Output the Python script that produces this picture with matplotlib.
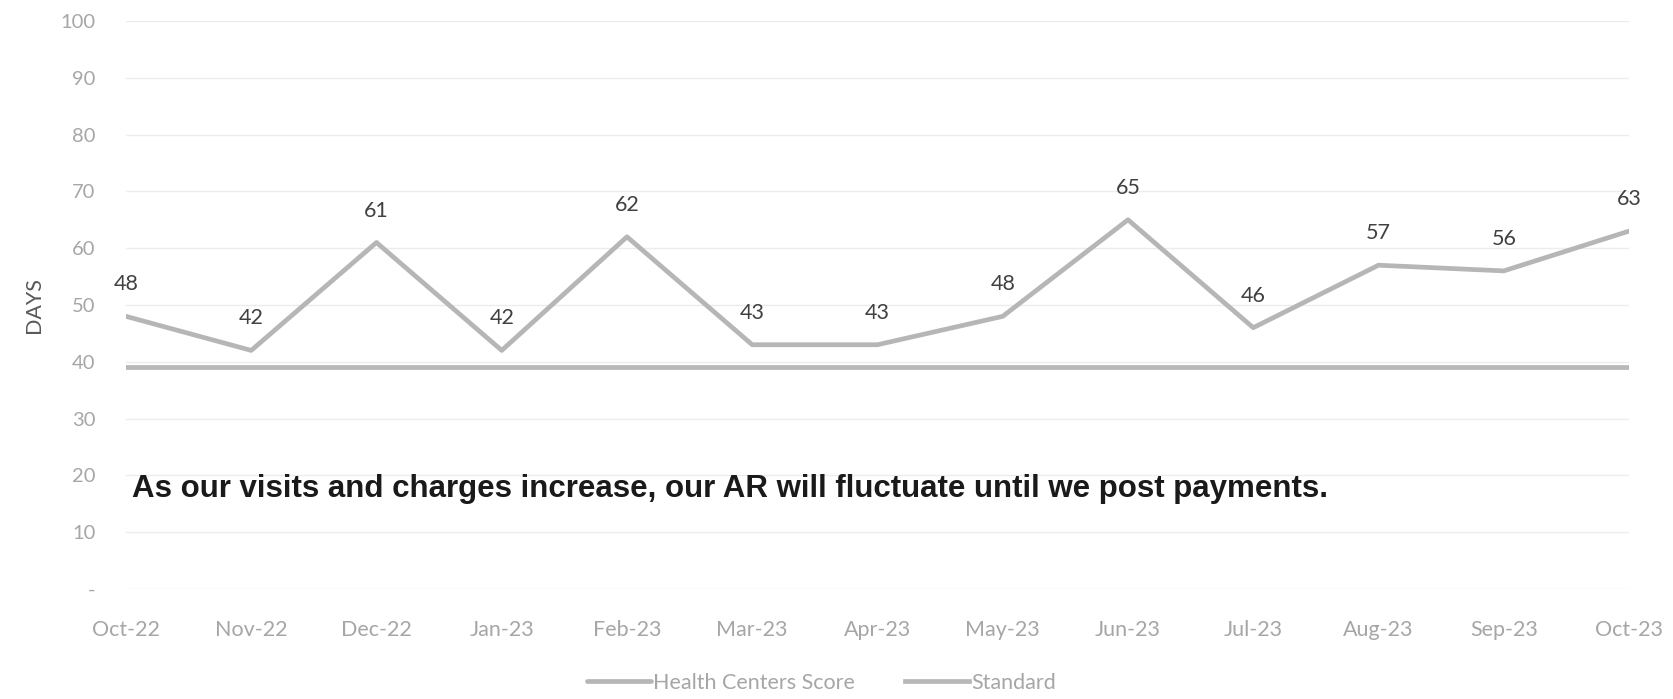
import matplotlib.pyplot as plt
from matplotlib.ticker import FuncFormatter

# AR days by month
months = ["Oct-22", "Nov-22", "Dec-22", "Jan-23", "Feb-23", "Mar-23", "Apr-23",
          "May-23", "Jun-23", "Jul-23", "Aug-23", "Sep-23", "Oct-23"]
score = [48, 42, 61, 42, 62, 43, 43, 48, 65, 46, 57, 56, 63]
standard = [39] * len(months)

line_grey = "#b6b6b6"
tick_grey = "#a6a6a6"

fig = plt.figure(figsize=(16.73, 6.99), dpi=100)
ax = fig.add_axes([0.0753, 0.1574, 0.8984, 0.8126])

x = list(range(len(months)))
ax.plot(x, score, color=line_grey, lw=3.4, solid_capstyle="round",
        label="Health Centers Score", zorder=3)
ax.plot(x, standard, color="#b8b8b8", lw=3.4, label="Standard", zorder=2)

# value labels above each point
for xi, v in zip(x, score):
    ax.annotate(str(v), (xi, v), xytext=(0, 23), textcoords="offset points",
                ha="center", va="center", fontsize=15.5, color="#404040",
                family="Lato")

ax.set_xlim(0, len(months) - 1)
ax.set_ylim(0, 100)
ax.set_yticks(range(0, 101, 10))
ax.yaxis.set_major_formatter(FuncFormatter(lambda v, p: "-" if v == 0 else f"{v:.0f}"))
ax.set_xticks(x)
ax.set_xticklabels(months)
ax.tick_params(length=0, labelsize=15.5, labelcolor=tick_grey, pad=22)
ax.tick_params(axis="y", labelsize=14.5, pad=22)
for lbl in ax.get_xticklabels() + ax.get_yticklabels():
    lbl.set_family("Lato")

ax.grid(axis="y", color="#ececec", lw=1)
ax.set_axisbelow(True)
for s in ax.spines.values():
    s.set_visible(False)

ax.set_ylabel("DAYS", fontsize=15.5, color="#595959", family="Lato", labelpad=12)

ax.text(0.05, 17.6, "As our visits and charges increase, our AR will fluctuate until we post payments.",
        fontsize=22.5, fontweight="bold", family="Liberation Sans", color="#1a1a1a",
        ha="left", va="center")

leg = fig.legend(loc="center", bbox_to_anchor=(0.491, 0.023), ncol=2, frameon=False,
                 handlelength=3.0, columnspacing=2.3, handletextpad=0.1,
                 prop={"family": "Lato", "size": 15.5})
for t in leg.get_texts():
    t.set_color(tick_grey)

fig.savefig("out.png", dpi=100, facecolor="white")
